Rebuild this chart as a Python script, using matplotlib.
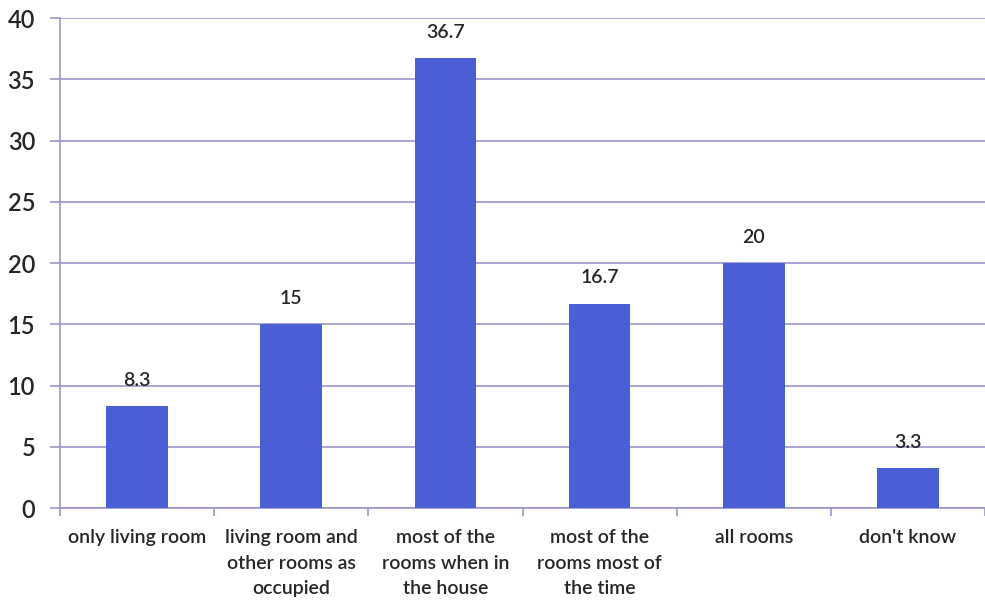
import matplotlib.pyplot as plt

categories = ['only living room', 'living room and\nother rooms as\noccupied',
              'most of the\nrooms when in\nthe house', 'most of the\nrooms most of\nthe time',
              'all rooms', "don't know"]
values = [8.3, 15, 36.7, 16.7, 20, 3.3]
value_labels = ['8.3', '15', '36.7', '16.7', '20', '3.3']
y_ticks = [0, 5, 10, 15, 20, 25, 30, 35, 40]

plt.rcParams['font.family'] = ['Lato', 'DejaVu Sans']

fig = plt.figure(figsize=(9.85, 6), dpi=100)
ax = fig.add_axes([0.061, 0.153, 0.939, 0.817])

grid_color = '#9d93cc'
text_color = '#262626'

x = list(range(len(categories)))
ax.bar(x, values, width=0.4, color='#4a5fd6', zorder=3)

# value labels above bars
for xi, v, lab in zip(x, values, value_labels):
    ax.text(xi, v + 1.4, lab, ha='center', va='bottom', fontsize=14,
            color=text_color, fontweight='semibold')

ax.set_xlim(-0.5, len(categories) - 0.5)
ax.set_ylim(0, 40)
ax.set_yticks(y_ticks)
ax.yaxis.grid(True, color=grid_color, linewidth=1.2, zorder=0)
ax.set_axisbelow(True)

ax.set_xticks(x)
ax.set_xticklabels(categories, fontsize=14, color=text_color, linespacing=1.62,
                   fontweight='semibold')
# small tick marks between the categories
ax.set_xticks([i + 0.5 for i in range(-1, len(categories))], minor=True)
ax.tick_params(axis='x', which='major', length=0, pad=15)
ax.tick_params(axis='x', which='minor', length=6, color=grid_color, width=1.2)
ax.tick_params(axis='y', length=7, color=grid_color, width=1.2, labelsize=17,
               labelcolor=text_color, pad=11)
for lbl in ax.get_yticklabels():
    lbl.set_fontweight('semibold')

for side in ['top', 'right']:
    ax.spines[side].set_visible(False)
ax.spines['left'].set_color(grid_color)
ax.spines['bottom'].set_color(grid_color)
ax.spines['left'].set_linewidth(1.2)
ax.spines['bottom'].set_linewidth(1.2)

fig.savefig('out.png', dpi=100)
